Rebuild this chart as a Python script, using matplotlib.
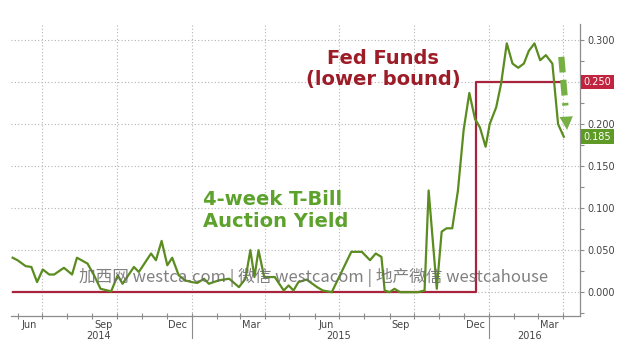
import matplotlib

matplotlib.use("Agg")

import matplotlib.dates as mdates
import pandas as pd
from matplotlib import pyplot as plt
from matplotlib.ticker import FixedLocator, MultipleLocator

# 4-week T-bill auction yield (%)
yield_dates = [
    "2014-05-26", "2014-06-01", "2014-06-11", "2014-06-18", "2014-06-25",
    "2014-07-02", "2014-07-10", "2014-07-16", "2014-07-28", "2014-08-07",
    "2014-08-13", "2014-08-26", "2014-09-03", "2014-09-11", "2014-09-24",
    "2014-10-02", "2014-10-08", "2014-10-22", "2014-10-28", "2014-11-12",
    "2014-11-18", "2014-11-25", "2014-12-02", "2014-12-08", "2014-12-16",
    "2014-12-24", "2015-01-01", "2015-01-08", "2015-01-16", "2015-01-22",
    "2015-02-03", "2015-02-16", "2015-02-28", "2015-03-08", "2015-03-14",
    "2015-03-19", "2015-03-24", "2015-03-31", "2015-04-13", "2015-04-24",
    "2015-04-30", "2015-05-06", "2015-05-12", "2015-05-22", "2015-06-04",
    "2015-06-11", "2015-06-22", "2015-06-28", "2015-07-16", "2015-07-29",
    "2015-08-08", "2015-08-15", "2015-08-22", "2015-08-26", "2015-09-01",
    "2015-09-07", "2015-09-14", "2015-09-20", "2015-09-28", "2015-10-06",
    "2015-10-14", "2015-10-19", "2015-10-29", "2015-11-04", "2015-11-10",
    "2015-11-17", "2015-11-24", "2015-12-01", "2015-12-08", "2015-12-15",
    "2015-12-21", "2015-12-28", "2016-01-02", "2016-01-10", "2016-01-16",
    "2016-01-23", "2016-01-30", "2016-02-06", "2016-02-13", "2016-02-19",
    "2016-02-26", "2016-03-04", "2016-03-11", "2016-03-19", "2016-03-26",
    "2016-04-02",
]
yield_values = [
    0.041, 0.038, 0.031, 0.030, 0.012,
    0.027, 0.021, 0.021, 0.029, 0.021,
    0.041, 0.034, 0.020, 0.004, 0.001,
    0.020, 0.010, 0.030, 0.024, 0.046,
    0.038, 0.061, 0.032, 0.041, 0.020,
    0.014, 0.012, 0.011, 0.016, 0.010,
    0.014, 0.016, 0.006, 0.016, 0.050,
    0.018, 0.050, 0.018, 0.018, 0.002,
    0.008, 0.002, 0.012, 0.015, 0.006,
    0.002, 0.000, 0.012, 0.048, 0.048,
    0.038, 0.046, 0.042, 0.002, 0.000,
    0.004, 0.000, 0.000, 0.000, 0.000,
    0.002, 0.121, 0.004, 0.072, 0.076,
    0.076, 0.121, 0.193, 0.237, 0.206,
    0.196, 0.173, 0.200, 0.220, 0.248,
    0.296, 0.272, 0.267, 0.272, 0.287,
    0.296, 0.276, 0.282, 0.272, 0.200,
    0.185,
]

# Fed funds target, lower bound (%)
fed_dates = ["2014-05-26", "2015-12-16", "2016-04-02"]
fed_values = [0.0, 0.25, 0.25]

ytick_values = [0.0, 0.05, 0.10, 0.15, 0.20, 0.25, 0.30]
grid_dates = ["2014-07-01", "2014-10-01", "2015-01-01", "2015-04-01",
              "2015-07-01", "2015-10-01", "2016-01-01", "2016-04-01"]
month_label_dates = ["2014-06-15", "2014-09-15", "2014-12-15", "2015-03-15",
                     "2015-06-15", "2015-09-15", "2015-12-15", "2016-03-15"]
month_labels = ["Jun", "Sep", "Dec", "Mar", "Jun", "Sep", "Dec", "Mar"]
year_label_dates = ["2014-09-08", "2015-07-01", "2016-02-20"]
year_labels = ["2014", "2015", "2016"]
year_break_dates = ["2015-01-01", "2016-01-01"]

GREEN = "#5b8c1f"
RED = "#a8243c"
GRID = "#b4b4b4"
AXIS = "#8c8c8c"

plt.rcParams["font.family"] = ["DejaVu Sans"]

fig = plt.figure(figsize=(6.26, 3.54), dpi=100)
ax = fig.add_axes([0.0176, 0.107, 0.909, 0.825])

yx = pd.to_datetime(yield_dates)
fx = pd.to_datetime(fed_dates)

ax.step(fx, fed_values, where="post", color=RED, lw=1.6, zorder=3)
ax.plot(yx, yield_values, color=GREEN, lw=1.6, zorder=4)

ax.set_xlim(pd.Timestamp("2014-05-24"), pd.Timestamp("2016-04-22"))
ax.set_ylim(-0.0285, 0.319)

# grid
for d in pd.to_datetime(grid_dates):
    ax.axvline(d, color=GRID, lw=0.8, ls=(0, (1, 2)), zorder=1)
ax.yaxis.set_major_locator(FixedLocator(ytick_values))
ax.yaxis.set_minor_locator(MultipleLocator(0.025))
ax.grid(axis="y", which="major", color=GRID, lw=0.8, ls=(0, (1, 2)), zorder=1)

# y axis on the right; the 0.250 label sits under the fed funds tag
ax.yaxis.tick_right()
ax.yaxis.set_major_formatter(
    plt.FuncFormatter(lambda v, _: "" if abs(v - fed_values[-1]) < 1e-9 else f"{v:.3f}"))
ax.tick_params(axis="y", which="both", direction="out", length=3, width=0.8,
               color=AXIS, labelsize=7, labelcolor="#444444", pad=2)

# x axis: month labels mid-month, ticks at month starts
ax.xaxis.set_major_locator(FixedLocator(mdates.date2num(pd.to_datetime(month_label_dates))))
ax.xaxis.set_major_formatter(plt.FixedFormatter(month_labels))
ax.xaxis.set_minor_locator(mdates.MonthLocator())
ax.tick_params(axis="x", which="major", length=0, labelsize=7, labelcolor="#444444", pad=3)
ax.tick_params(axis="x", which="minor", direction="inout", length=4, width=0.8, color=AXIS)

xtrans = ax.get_xaxis_transform()
for d, lab in zip(pd.to_datetime(year_label_dates), year_labels):
    ax.text(d, -0.068, lab, transform=xtrans, ha="center", va="center",
            fontsize=7, color="#444444")
for d in pd.to_datetime(year_break_dates):
    ax.plot([d, d], [0, -0.075], transform=xtrans, color=AXIS, lw=0.8, clip_on=False)

for side in ["left", "top"]:
    ax.spines[side].set_visible(False)
for side in ["bottom", "right"]:
    ax.spines[side].set_color(AXIS)
    ax.spines[side].set_linewidth(0.9)

# last-value tags
ytrans = ax.get_yaxis_transform()
ax.text(1.006, fed_values[-1], f"{fed_values[-1]:.3f}", transform=ytrans, ha="left",
        va="center", fontsize=7, color="white", zorder=6,
        bbox={"boxstyle": "square,pad=0.25", "facecolor": "#c0243e", "edgecolor": "none"})
ax.text(1.006, yield_values[-1], f"{yield_values[-1]:.3f}", transform=ytrans, ha="left",
        va="center", fontsize=7, color="white", zorder=6,
        bbox={"boxstyle": "square,pad=0.25", "facecolor": "#5f9a26", "edgecolor": "none"})

# annotations
ax.text(0.654, 0.846, "Fed Funds\n(lower bound)", transform=ax.transAxes, ha="center",
        va="center", fontsize=14, fontweight="bold", color="#9c1c28", linespacing=1.15)
ax.text(0.337, 0.363, "4-week T-Bill\nAuction Yield", transform=ax.transAxes, ha="left",
        va="center", fontsize=14, fontweight="bold", color="#5ea22e", linespacing=1.2)

# dashed "falling" arrow
arrow_start = (pd.Timestamp("2016-03-30"), 0.280)
arrow_end = (pd.Timestamp("2016-04-06"), 0.193)
ax.plot([arrow_start[0], pd.Timestamp("2016-04-04")], [arrow_start[1], 0.222],
        color="#76b043", lw=4.5, dashes=(2.5, 1.2), solid_capstyle="butt", zorder=5)
ax.annotate("", xy=arrow_end, xytext=(pd.Timestamp("2016-04-04"), 0.224),
            arrowprops={"arrowstyle": "-|>", "color": "#76b043", "lw": 0,
                        "mutation_scale": 24, "shrinkA": 0, "shrinkB": 0}, zorder=5)

# watermark
ax.text(0.531, 0.134, "加西网 westca.com | 微信 westcacom | 地产微信 westcahouse",
        transform=ax.transAxes, ha="center", va="center", fontsize=12,
        color="#6a6a6a", alpha=0.85, zorder=7,
        family=["Noto Sans CJK SC", "DejaVu Sans"])

fig.savefig("out.png", dpi=100)
plt.close(fig)
